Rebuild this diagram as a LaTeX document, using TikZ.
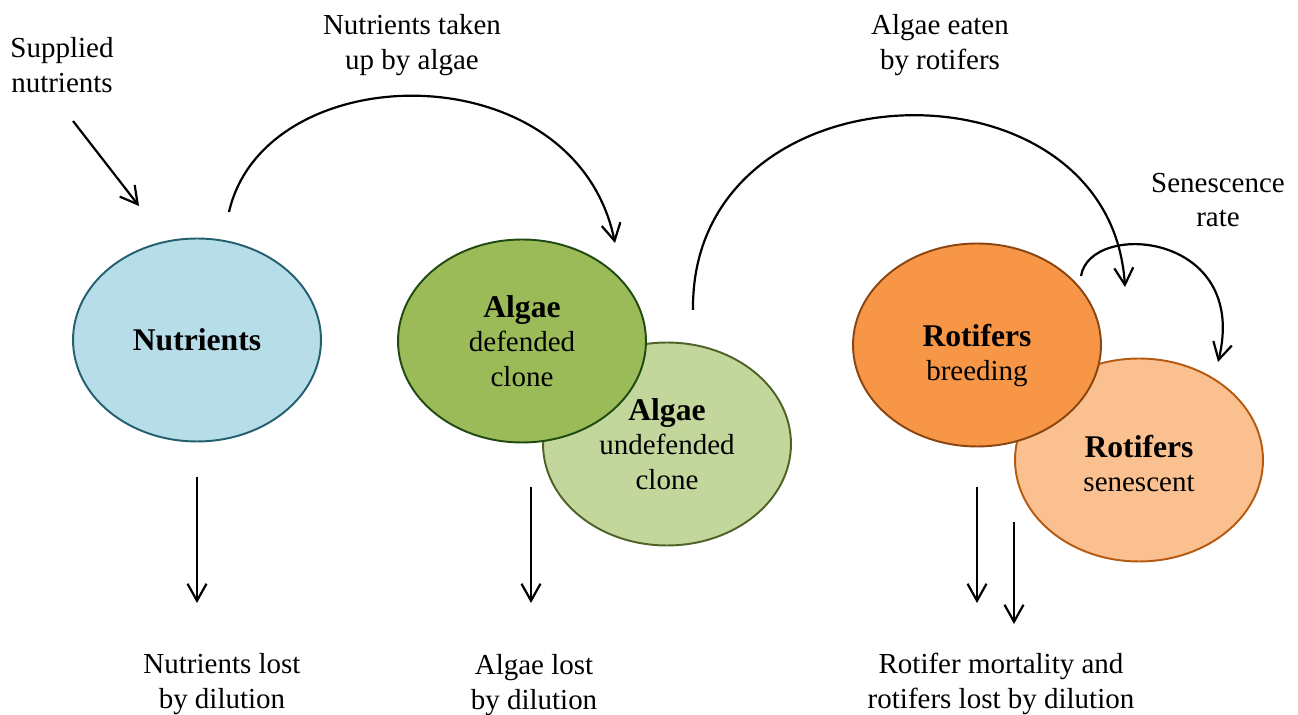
\documentclass[tikz,border=0pt]{standalone}
\usepackage{fontspec}
\setmainfont{Liberation Serif}
\usetikzlibrary{shapes.geometric,arrows.meta,positioning}
\definecolor{nutrfill}{HTML}{B7DDE8}
\definecolor{nutrline}{HTML}{22606F}
\definecolor{defill}{HTML}{9BBB59}
\definecolor{defline}{HTML}{1F4A12}
\definecolor{undefill}{HTML}{C3D69B}
\definecolor{undefline}{HTML}{4F6228}
\definecolor{breedfill}{HTML}{F79646}
\definecolor{breedline}{HTML}{8A4510}
\definecolor{senfill}{HTML}{FAC090}
\definecolor{senline}{HTML}{B65A10}
\newcommand{\poolname}[1]{{\fontsize{18}{20}\selectfont\bfseries #1}}
\tikzset{
    compartment/.style={
           ellipse,
           draw, line width=1.1pt,
           minimum width=4.96cm,
           minimum height=4.06cm,
           inner sep=0pt,
           align=center,
           font=\fontsize{16.5}{19.5}\selectfont
           },
    caption/.style={
           align=center,
           inner sep=0pt,
           font=\fontsize{16.5}{19.5}\selectfont
           },
    flow/.style={
           line width=1.25pt,
           -{Straight Barb[length=3.4mm,width=3.8mm]}
           }
}
\begin{document}
\begin{tikzpicture}[x=0.02cm, y=-0.02cm]
   \useasboundingbox (0,0) rectangle (1298,715);
   % compartments
   \node[compartment, fill=nutrfill, draw=nutrline] (nutr) at (197,340) {\poolname{Nutrients}};
   \node[compartment, fill=undefill, draw=undefline] (algundef) at (667,444) {\poolname{Algae}\\undefended\\clone};
   \node[compartment, fill=defill, draw=defline] (algdef) at (522,341) {\poolname{Algae}\\defended\\clone};
   \node[compartment, fill=senfill, draw=senline] (rotsen) at (1139,460) {\rule{0pt}{17pt}\poolname{Rotifers}\\senescent};
   \node[compartment, fill=breedfill, draw=breedline] (rotbreed) at (977,345) {\rule{0pt}{25pt}\poolname{Rotifers}\\breeding};
   % labels
   \node[caption] (supply) at (62,65) {Supplied\\nutrients};
   \node[caption] (uptake) at (412,45) {Nutrients taken\\up by algae};
   \node[caption] (grazing) at (940,45) {Algae eaten\\by rotifers};
   \node[caption] (ageing) at (1218,200) {Senescence\\rate};
   \node[caption] (nutrloss) at (222,684) {Nutrients lost\\by dilution};
   \node[caption] (algloss) at (534,685) {Algae lost\\by dilution};
   \node[caption] (rotloss) at (1001,684) {Rotifer mortality and\\rotifers lost by dilution};
   % end points of the flows
   \coordinate (supplyS) at (73,121);
   \coordinate (supplyE) at (139,206);
   \coordinate (uptakeS) at (229,212);
   \coordinate (uptakeE) at (615,243);
   \coordinate (grazingS) at (693,310);
   \coordinate (grazingE) at (1125,287);
   \coordinate (ageingS) at (1081,276);
   \coordinate (ageingE) at (1218,362);
   \coordinate (nutrlossS) at (197,477);
   \coordinate (nutrlossE) at (197,603);
   \coordinate (alglossS) at (531,487);
   \coordinate (alglossE) at (531,603);
   \coordinate (rotlossS) at (977,487);
   \coordinate (rotlossE) at (977,603);
   \coordinate (senlossS) at (1014,522);
   \coordinate (senlossE) at (1014,624);
   % flows
   \draw[flow] (supplyS) -- (supplyE);
   \draw[flow] (uptakeS) .. controls (265,55) and (575,50) .. (uptakeE);
   \draw[flow] (grazingS) .. controls (690,60) and (1110,50) .. (grazingE);
   \draw[flow] (ageingS) .. controls (1090,220) and (1250,232) .. (ageingE);
   \draw[flow] (nutrlossS) -- (nutrlossE);
   \draw[flow] (alglossS) -- (alglossE);
   \draw[flow] (rotlossS) -- (rotlossE);
   \draw[flow] (senlossS) -- (senlossE);
\end{tikzpicture}
\end{document}
